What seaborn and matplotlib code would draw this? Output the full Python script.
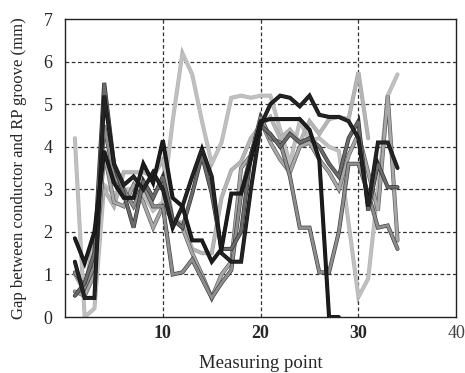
import numpy as np
import pandas as pd
import matplotlib
matplotlib.use("Agg")
import matplotlib.pyplot as plt
import matplotlib.patheffects as pe
import seaborn as sns

# Gap readings (mm) per measuring point for each measured conductor
run_a = [1.85, 1.27, 2.0, 3.9, 3.15, 2.8, 2.8, 3.6, 3.15, 4.15, 2.8, 2.6, 1.8, 1.8, 1.3,
         1.6, 2.9, 2.9, 3.7, 4.6, 4.65, 4.65, 4.65, 4.65, 4.4, 3.7, 0.0, 0.0]
run_b = [1.3, 0.45, 0.45, 5.2, 3.6, 3.1, 3.3, 3.0, 3.4, 3.0, 2.1, 2.6, 3.3, 3.95, 3.3,
         1.5, 1.3, 1.3, 3.0, 4.5, 5.0, 5.2, 5.15, 4.95, 5.2, 4.75, 4.7, 4.7, 4.6, 4.2,
         2.6, 4.1, 4.1, 3.5]
run_c = [0.5, 0.8, 1.5, 5.5, 3.6, 2.9, 2.1, 3.2, 2.8, 3.3, 2.3, 2.1, 2.9, 3.8, 2.9,
         1.6, 1.6, 2.0, 3.8, 4.5, 4.3, 4.0, 4.3, 4.1, 4.2, 4.0, 3.6, 3.3, 4.2, 4.6,
         2.5, 3.6, 3.05, 3.05]
run_d = [1.05, 0.7, 1.2, 4.5, 3.3, 3.0, 2.6, 3.1, 2.6, 2.6, 1.0, 1.05, 1.35, 0.9, 0.45,
         0.8, 1.1, 2.9, 3.8, 4.7, 4.2, 4.1, 3.3, 2.1, 2.1, 1.05, 1.05, 2.0, 3.6, 3.6,
         2.9, 2.1, 2.15, 1.6]
run_e = [0.6, 0.5, 1.0, 3.85, 2.7, 2.6, 3.1, 2.7, 2.1, 2.6, 2.3, 2.1, 1.5, 1.0, 0.45,
         1.0, 1.3, 3.5, 3.8, 4.6, 4.1, 3.7, 3.4, 4.0, 4.1, 3.7, 3.4, 3.0, 3.8, 4.3,
         3.4, 2.5, 5.2, 1.8]
run_f = [4.2, 0.0, 0.2, 3.1, 2.9, 3.0, 3.0, 2.9, 2.5, 2.7, 4.6, 6.2, 5.7, 4.6, 3.6,
         4.1, 5.15, 5.2, 5.15, 5.2, 5.2, 4.4, 3.6, 4.6, 4.15, 4.2, 4.0, 3.9, 2.2, 0.47,
         0.9, 3.0, 5.2, 5.7]
run_g = [1.0, 0.6, 1.9, 3.0, 2.6, 3.4, 3.4, 3.4, 3.3, 3.7, 2.3, 2.2, 1.6, 1.5, 1.5,
         2.8, 3.45, 3.65, 4.2, 4.5, 4.7, 4.2, 4.4, 4.1, 4.6, 4.3, 4.65, 4.7, 4.65, 5.75,
         4.2]

runs = {"A": run_a, "B": run_b, "C": run_c, "D": run_d,
        "E": run_e, "F": run_f, "G": run_g}
colors = {"A": "#1c1c1c", "B": "#242424", "C": "#6a6a6a", "D": "#8e8e8e",
          "E": "#a8a8a8", "F": "#c0c0c0", "G": "#b6b6b6"}
edges = {"A": "#111111", "B": "#111111", "C": "#2e2e2e", "D": "#3c3c3c",
         "E": "#5a5a5a", "F": "#b4b4b4", "G": "#a2a2a2"}

frames = [pd.DataFrame({"point": np.arange(1, len(v) + 1), "gap": v, "run": k})
          for k, v in runs.items()]
df = pd.concat(frames, ignore_index=True)

sns.set_style("white")
plt.rcParams["font.family"] = ["Liberation Serif", "DejaVu Serif"]

fig = plt.figure(figsize=(4.65, 3.73), dpi=100)
ax = fig.add_axes([0.140, 0.150, 0.841, 0.799])

# lighter runs first so the dark ones sit on top
order = ["F", "G", "E", "D", "C", "B", "A"]
for k in order:
    sub = df[df["run"] == k]
    sns.lineplot(data=sub, x="point", y="gap", ax=ax, color=colors[k],
                 linewidth=2.0, estimator=None, sort=False, legend=False)
    line = ax.lines[-1]
    line.set_solid_joinstyle("miter")
    line.set_path_effects([pe.Stroke(linewidth=2.9, foreground=edges[k]),
                           pe.Normal()])

ax.set_xlim(0, 40)
ax.set_ylim(0, 7)
ax.set_xticks([10, 20, 30, 40])
ax.set_yticks(range(0, 8))
ax.set_xticklabels(["10", "20", "30", "40"])
for lbl, wt in zip(ax.get_xticklabels(), ["bold", "bold", "bold", "normal"]):
    lbl.set_fontweight(wt)
    lbl.set_fontsize(13)
ax.get_xticklabels()[3].set_color("#444444")
for lbl in ax.get_yticklabels():
    lbl.set_fontsize(13)

ax.tick_params(axis="x", length=0, pad=6)
ax.tick_params(axis="y", length=0, pad=9)
for x in [10, 20, 30]:
    ax.axvline(x, color="#333333", lw=0.9, ls=(0, (3, 2)), zorder=0.5)
for y in range(1, 7):
    ax.axhline(y, color="#333333", lw=0.9, ls=(0, (3, 2)), zorder=0.5)

for s in ax.spines.values():
    s.set_color("#222222")
    s.set_linewidth(1.0)

ax.set_xlabel("Measuring point", fontsize=13.5, labelpad=9)
ax.set_ylabel("Gap between conductor and RP groove (mm)", fontsize=12, labelpad=12)

fig.savefig("out.png", dpi=100)
